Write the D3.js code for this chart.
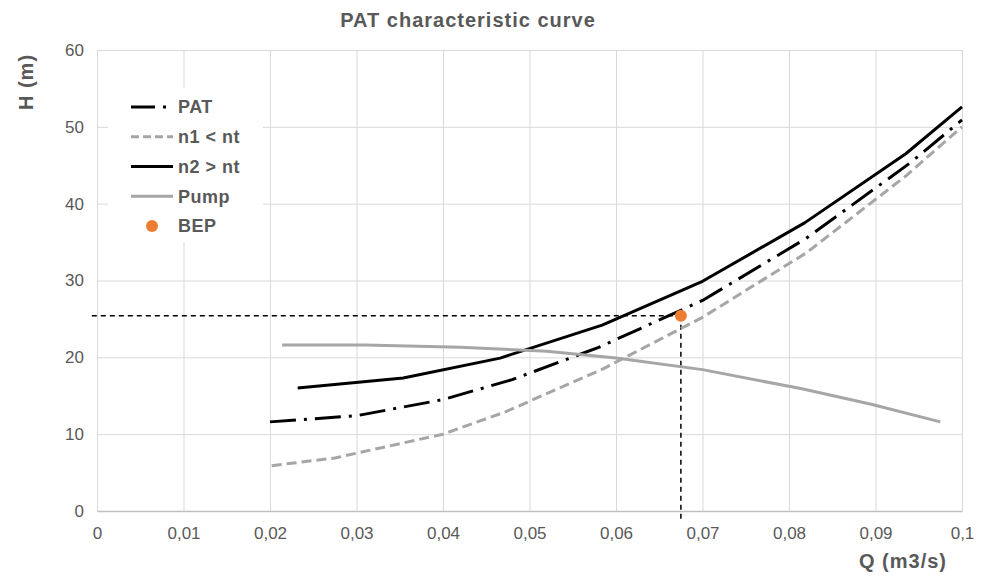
<!DOCTYPE html>
<html>
<head>
<meta charset="utf-8">
<script src="https://cdn.jsdelivr.net/npm/d3@7"></script>
<style>
  body { margin: 0; background: #fff; }
  svg text { font-family: "Liberation Sans", Arial, sans-serif; fill: #595959; }
</style>
</head>
<body>
<div id="chart"></div>
<script>
// Q (m3/s) and H (m)
const patQ = [0.0200, 0.0300, 0.0400, 0.0480, 0.0580, 0.0700, 0.0820, 0.0940, 0.1000];
const patH = [11.6, 12.4, 14.5, 17.1, 21.3, 27.4, 35.5, 45.3, 50.9];

const n1Q = [0.0202, 0.0275, 0.0400, 0.0472, 0.0585, 0.0700, 0.0820, 0.0935, 0.1000];
const n1H = [5.9, 6.9, 10.0, 12.9, 18.5, 25.2, 33.6, 43.6, 50.0];

const n2Q = [0.0232, 0.0354, 0.0466, 0.0584, 0.0700, 0.0818, 0.0935, 0.1000];
const n2H = [16.0, 17.3, 19.9, 24.2, 29.9, 37.5, 46.5, 52.6];

const pumpQ = [0.0214, 0.0310, 0.0420, 0.0520, 0.0600, 0.0700, 0.0815, 0.0895, 0.0975];
const pumpH = [21.6, 21.6, 21.3, 20.8, 19.9, 18.4, 15.9, 13.9, 11.6];

const bepQ = 0.0675, bepH = 25.4;
// dashed guides run a little past the axes, as in the picture
const guideQ = [-0.0006, bepQ];
const guideH = [bepH, -1.2];

const xTicks = [0, 0.01, 0.02, 0.03, 0.04, 0.05, 0.06, 0.07, 0.08, 0.09, 0.1];
const yTicks = [0, 10, 20, 30, 40, 50, 60];
const legendLabels = ["PAT", "n1 < nt", "n2 > nt", "Pump", "BEP"];

const W = 984, H = 578;
const svg = d3.select("#chart").append("svg").attr("width", W).attr("height", H);

const x = d3.scaleLinear().domain([0, 0.1]).range([97, 962]);
const y = d3.scaleLinear().domain([0, 60]).range([511, 50]);

const comma = d3.formatLocale({ decimal: ",", thousands: ".", grouping: [3], currency: ["", ""] });
const fmt = comma.format(".2~f");

// gridlines
svg.append("g")
  .attr("transform", `translate(0,${y(0)})`)
  .call(d3.axisBottom(x).tickValues(xTicks).tickSize(-(y(0) - y(60))).tickFormat(""))
  .call(g => g.select(".domain").remove())
  .call(g => g.selectAll("line").attr("stroke", "#d9d9d9"));
svg.append("g")
  .attr("transform", `translate(${x(0)},0)`)
  .call(d3.axisLeft(y).tickValues(yTicks.slice(1)).tickSize(-(x(0.1) - x(0))).tickFormat(""))
  .call(g => g.select(".domain").remove())
  .call(g => g.selectAll("line").attr("stroke", "#d9d9d9"));

// x axis line and labels
const xAxis = svg.append("g")
  .attr("transform", `translate(0,${y(0)})`)
  .call(d3.axisBottom(x).tickValues(xTicks).tickSize(0).tickPadding(16).tickFormat(fmt));
xAxis.select(".domain").attr("stroke", "#bfbfbf").attr("stroke-width", 1.5);
xAxis.selectAll("text").attr("font-size", 17).style("font-family", "Liberation Sans, Arial, sans-serif");

const yAxis = svg.append("g")
  .attr("transform", `translate(${x(0)},0)`)
  .call(d3.axisLeft(y).tickValues(yTicks).tickSize(0).tickPadding(13));
yAxis.select(".domain").remove();
yAxis.selectAll("text").attr("font-size", 17).style("font-family", "Liberation Sans, Arial, sans-serif");

// titles
svg.append("text").attr("x", 468).attr("y", 27).attr("text-anchor", "middle")
  .attr("font-size", 20).attr("font-weight", "bold").attr("letter-spacing", 1)
  .text("PAT characteristic curve");
svg.append("text").attr("x", 903).attr("y", 568).attr("text-anchor", "middle")
  .attr("font-size", 20).attr("font-weight", "bold").attr("letter-spacing", 1)
  .text("Q (m3/s)");
svg.append("text").attr("transform", "translate(33,82) rotate(-90)").attr("text-anchor", "middle")
  .attr("font-size", 20).attr("font-weight", "bold").attr("letter-spacing", 1)
  .text("H (m)");

const line = d3.line().x(d => x(d[0])).y(d => y(d[1]));
const zip = (a, b) => a.map((v, i) => [v, b[i]]);

const series = [
  { name: "PAT", pts: zip(patQ, patH), stroke: "#000", width: 3, dash: "26,8,3,8" },
  { name: "n1 < nt", pts: zip(n1Q, n1H), stroke: "#a6a6a6", width: 3, dash: "10,5" },
  { name: "n2 > nt", pts: zip(n2Q, n2H), stroke: "#000", width: 3, dash: null },
  { name: "Pump", pts: zip(pumpQ, pumpH), stroke: "#a6a6a6", width: 3, dash: null }
];

// BEP guides
svg.append("path")
  .datum([[guideQ[0], bepH], [bepQ, bepH]])
  .attr("fill", "none").attr("stroke", "#000").attr("stroke-width", 1.5)
  .attr("stroke-dasharray", "5,4").attr("d", line);
svg.append("path")
  .datum([[bepQ, guideH[0]], [bepQ, guideH[1]]])
  .attr("fill", "none").attr("stroke", "#000").attr("stroke-width", 1.5)
  .attr("stroke-dasharray", "5,4").attr("d", line);

series.forEach(s => {
  svg.append("path")
    .datum(s.pts)
    .attr("fill", "none")
    .attr("stroke", s.stroke)
    .attr("stroke-width", s.width)
    .attr("stroke-dasharray", s.dash)
    .attr("stroke-linejoin", "round")
    .attr("d", line);
});

svg.append("circle").attr("cx", x(bepQ)).attr("cy", y(bepH)).attr("r", 6).attr("fill", "#ed7d31");

// legend
const lg = svg.append("g");
lg.append("rect").attr("x", 108).attr("y", 88).attr("width", 155).attr("height", 154).attr("fill", "#fff");
const rowY = d3.scalePoint().domain(legendLabels).range([107, 226]);
legendLabels.forEach((label, i) => {
  const yy = rowY(label);
  if (i < 4) {
    const s = series[i];
    lg.append("line").attr("x1", 131).attr("x2", 173).attr("y1", yy).attr("y2", yy)
      .attr("stroke", s.stroke).attr("stroke-width", s.width)
      .attr("stroke-dasharray", s.name === "PAT" ? "24,8,3,20" : s.name === "n1 < nt" ? "8,4" : null);
  } else {
    lg.append("circle").attr("cx", 152).attr("cy", yy).attr("r", 6).attr("fill", "#ed7d31");
  }
  lg.append("text").attr("x", 178).attr("y", yy).attr("dy", "0.35em")
    .attr("font-size", 18).attr("font-weight", "bold").attr("letter-spacing", 0.5)
    .text(label);
});
</script>
</body>
</html>
